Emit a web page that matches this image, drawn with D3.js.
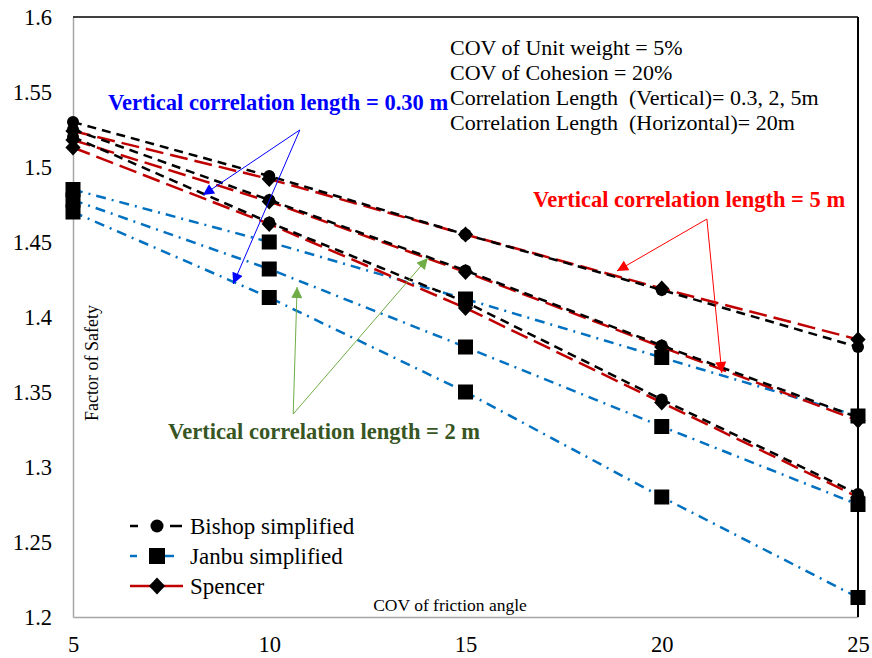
<!DOCTYPE html>
<html><head><meta charset="utf-8">
<script src="https://cdn.jsdelivr.net/npm/d3@7"></script>
<style>
body{margin:0;background:#fff}
svg{display:block}
text{font-family:"Liberation Serif","Times New Roman",Times,"DejaVu Serif",serif}
</style>
</head><body>
<svg id="chart" width="872" height="658"></svg>
<script>
// ---------------- data ----------------
const cov = [5, 10, 15, 20, 25];
const xTicks = [5, 10, 15, 20, 25];
const yTicks = [1.2, 1.25, 1.3, 1.35, 1.4, 1.45, 1.5, 1.55, 1.6];

const bishopUpper  = [1.530, 1.494, 1.455, 1.418, 1.380];
const bishopMiddle = [1.525, 1.478, 1.431, 1.381, 1.333];
const bishopLower  = [1.520, 1.463, 1.410, 1.345, 1.282];

const spencerUpper  = [1.524, 1.492, 1.455, 1.419, 1.385];
const spencerMiddle = [1.518, 1.477, 1.430, 1.380, 1.331];
const spencerLower  = [1.513, 1.462, 1.406, 1.343, 1.280];

const janbuUpper  = [1.485, 1.450, 1.412, 1.373, 1.334];
const janbuMiddle = [1.478, 1.432, 1.380, 1.327, 1.275];
const janbuLower  = [1.470, 1.413, 1.350, 1.280, 1.213];

const seriesNames = ["Bishop simplified", "Janbu simplified", "Spencer"];
const xTitle = "COV of friction angle";
const yTitle = "Factor of Safety";
const infoLines = [
  "COV of Unit weight = 5%",
  "COV of Cohesion = 20%",
  "Correlation Length  (Vertical)= 0.3, 2, 5m",
  "Correlation Length  (Horizontal)= 20m"
];
// annotation labels, anchors in data units [cov, FS]
const labelBlue  = {text: "Vertical correlation length = 0.30 m", at: [5.89, 1.538]};
const labelRed   = {text: "Vertical correlation length = 5 m",    at: [16.72, 1.4733]};
const labelGreen = {text: "Vertical correlation length = 2 m",    at: [7.42, 1.3187]};
const arrowsBlue  = {from: [10.78, 1.5247], to: [[8.31, 1.4813], [9.08, 1.422]]};
const arrowsRed   = {from: [21.15, 1.4653], to: [[18.86, 1.4307], [21.53, 1.3627]]};
const arrowsGreen = {from: [10.61, 1.3353], to: [[10.71, 1.420], [14.04, 1.4393]]};

// ---------------- chart ----------------
const FONT = '"Liberation Serif","Times New Roman",Times,"DejaVu Serif",serif';
const svg = d3.select("#chart");
const x = d3.scaleLinear().domain([5, 25]).range([73, 858]);
const y = d3.scaleLinear().domain([1.2, 1.6]).range([617, 17]);

const colBishop = "#000000", colJanbu = "#0070C0", colSpencer = "#C00000";

// axes
const gy = svg.append("g").attr("transform", `translate(${x(5)},0)`)
  .call(d3.axisLeft(y).tickValues(yTicks).tickSize(0).tickPadding(21).tickFormat(d => String(d)));
const gx = svg.append("g").attr("transform", `translate(0,${y(1.2)})`)
  .call(d3.axisBottom(x).tickValues(xTicks).tickSize(0).tickPadding(19).tickFormat(d => String(d)));
[gy, gx].forEach(g => {
  g.attr("font-family", FONT);
  g.select(".domain").attr("stroke", "#A6A6A6").attr("stroke-width", 1.5);
  g.selectAll("text").attr("font-size", 22.5).attr("fill", "#000");
});

// top and right border lines
svg.append("line").attr("x1", x(5)).attr("x2", x(25)).attr("y1", y(1.6)).attr("y2", y(1.6))
  .attr("stroke", "#000").attr("stroke-width", 1.5);
svg.append("line").attr("x1", x(25)).attr("x2", x(25)).attr("y1", y(1.6)).attr("y2", y(1.2))
  .attr("stroke", "#000").attr("stroke-width", 2);

// titles
svg.append("text").attr("x", 450).attr("y", 611).attr("text-anchor", "middle")
  .attr("font-size", 17.5).text(xTitle);
svg.append("text").attr("transform", `translate(98,363) rotate(-90)`).attr("text-anchor", "middle")
  .attr("font-size", 18).text(yTitle);

// lines
const line = d3.line().x((d, i) => x(cov[i])).y(d => y(d));
const lineGroups = [
  {data: [janbuUpper, janbuMiddle, janbuLower], color: colJanbu, dash: "10,6,2,6"},
  {data: [spencerUpper, spencerMiddle, spencerLower], color: colSpencer, dash: "18,7"},
  {data: [bishopUpper, bishopMiddle, bishopLower], color: colBishop, dash: "9,6"}
];
lineGroups.forEach(g => {
  svg.append("g").selectAll("path").data(g.data).join("path")
    .attr("d", line).attr("fill", "none").attr("stroke", g.color)
    .attr("stroke-width", 2.5).attr("stroke-dasharray", g.dash);
});

// markers
const diamond = (s) => `M0,${-s}L${s * 0.95},0L0,${s}L${-s * 0.95},0Z`;
function drawDiamonds(arr) {
  svg.append("g").selectAll("path").data(arr).join("path")
    .attr("transform", (d, i) => `translate(${x(cov[i])},${y(d)})`)
    .attr("d", diamond(8)).attr("fill", "#000");
}
function drawCircles(arr) {
  svg.append("g").selectAll("circle").data(arr).join("circle")
    .attr("cx", (d, i) => x(cov[i])).attr("cy", d => y(d)).attr("r", 6).attr("fill", "#000");
}
function drawSquares(arr) {
  svg.append("g").selectAll("rect").data(arr).join("rect")
    .attr("x", (d, i) => x(cov[i]) - 7.5).attr("y", d => y(d) - 7.5)
    .attr("width", 15).attr("height", 15).attr("fill", "#000");
}
[spencerUpper, spencerMiddle, spencerLower].forEach(drawDiamonds);
[bishopUpper, bishopMiddle, bishopLower].forEach(drawCircles);
[janbuUpper, janbuMiddle, janbuLower].forEach(drawSquares);

// legend
const lg = svg.append("g");
const legRows = [526, 556, 586];
lg.append("line").attr("x1", 130).attr("x2", 138).attr("y1", legRows[0]).attr("y2", legRows[0]).attr("stroke", colBishop).attr("stroke-width", 2.5);
lg.append("line").attr("x1", 170).attr("x2", 182).attr("y1", legRows[0]).attr("y2", legRows[0]).attr("stroke", colBishop).attr("stroke-width", 2.5);
lg.append("circle").attr("cx", 157).attr("cy", legRows[0]).attr("r", 6.5).attr("fill", "#000");
lg.append("line").attr("x1", 130).attr("x2", 137).attr("y1", legRows[1]).attr("y2", legRows[1]).attr("stroke", colJanbu).attr("stroke-width", 2.5);
lg.append("line").attr("x1", 164).attr("x2", 174).attr("y1", legRows[1]).attr("y2", legRows[1]).attr("stroke", colJanbu).attr("stroke-width", 2.5);
lg.append("rect").attr("x", 149).attr("y", legRows[1] - 8).attr("width", 16).attr("height", 16).attr("fill", "#000");
lg.append("line").attr("x1", 130).attr("x2", 183).attr("y1", legRows[2]).attr("y2", legRows[2]).attr("stroke", colSpencer).attr("stroke-width", 2.5);
lg.append("path").attr("transform", `translate(157,${legRows[2]})`).attr("d", diamond(8.5)).attr("fill", "#000");
lg.selectAll("text").data(seriesNames).join("text")
  .attr("x", 190).attr("y", (d, i) => legRows[i] + 7.5).attr("font-size", 23).text(d => d);

// info text
svg.append("g").selectAll("text").data(infoLines).join("text")
  .attr("x", 450).attr("y", (d, i) => 55 + i * 25).attr("font-size", 22)
  .style("white-space", "pre").text(d => d);

// annotations
const defs = svg.append("defs");
function arrowMarker(id, color) {
  defs.append("marker").attr("id", id).attr("viewBox", "0 0 10 10").attr("refX", 10).attr("refY", 5)
    .attr("markerUnits", "userSpaceOnUse").attr("markerWidth", 12).attr("markerHeight", 11)
    .attr("orient", "auto")
    .append("path").attr("d", "M0,0L10,5L0,10Z").attr("fill", color);
}
arrowMarker("arrBlue", "#0000FF");
arrowMarker("arrRed", "#FF0000");
arrowMarker("arrGreen", "#70AD47");
function drawArrows(a, color, mk) {
  a.to.forEach(t => {
    svg.append("line").attr("x1", x(a.from[0])).attr("y1", y(a.from[1]))
      .attr("x2", x(t[0])).attr("y2", y(t[1])).attr("stroke", color).attr("stroke-width", 1)
      .attr("marker-end", `url(#${mk})`);
  });
}
drawArrows(arrowsBlue, "#0000FF", "arrBlue");
drawArrows(arrowsRed, "#FF0000", "arrRed");
drawArrows(arrowsGreen, "#70AD47", "arrGreen");

function drawLabel(l, color) {
  svg.append("text").attr("x", x(l.at[0])).attr("y", y(l.at[1])).attr("font-size", 22.5)
    .attr("font-weight", "bold").attr("fill", color).text(l.text);
}
drawLabel(labelBlue, "#0000FF");
drawLabel(labelRed, "#FF0000");
drawLabel(labelGreen, "#375623");
</script>
</body></html>
